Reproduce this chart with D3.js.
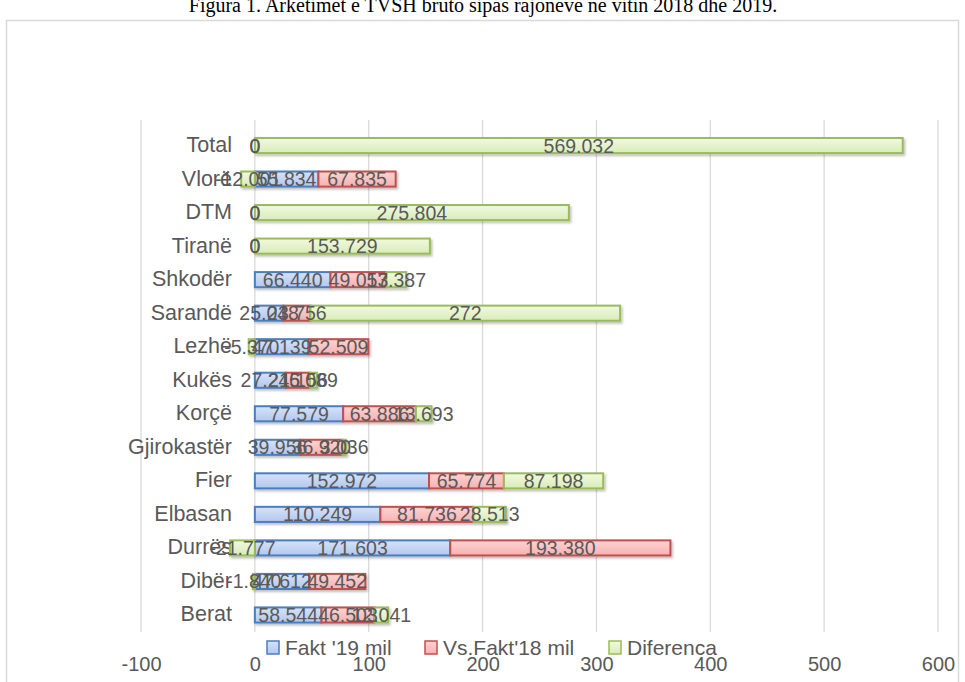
<!DOCTYPE html>
<html><head><meta charset="utf-8">
<script src="https://cdn.jsdelivr.net/npm/d3@7"></script>
<style>body{margin:0;background:#fff}svg{display:block}</style>
</head><body><svg id="c" width="965" height="682"></svg>
<script>
const categories = ["Total","Vlorë","DTM","Tiranë","Shkodër","Sarandë","Lezhë","Kukës","Korçë","Gjirokastër","Fier","Elbasan","Durrës","Dibër","Berat"];
const fakt19 =    [0, 55.834, 0, 0, 66.440, 25.048, 47.139, 27.245, 77.579, 39.956, 152.972, 110.249, 171.603, 47.612, 58.544];
const vsFakt18 =  [0, 67.835, 0, 0, 49.053, 23.756, 52.509, 21.156, 63.886, 36.920, 65.774, 81.736, 193.380, 49.452, 46.503];
const diferenca = [569.032, -12.001, 275.804, 153.729, 17.387, 272, -5.370, 6.089, 13.693, 3.036, 87.198, 28.513, -21.777, -1.840, 12.041];
const seriesNames = ["Fakt '19 mil", "Vs.Fakt'18 mil", "Diferenca"];
const xTicks = [-100, 0, 100, 200, 300, 400, 500, 600];
const titleText = "Figura 1. Arkëtimet e TVSH bruto sipas rajoneve në vitin 2018 dhe 2019.";

const keys = ["f", "v", "d"];
const rows = categories.map((c, i) => ({cat: c, f: fakt19[i], v: vsFakt18[i], d: diferenca[i]}));
const strokes = {f: "#4a7ebf", v: "#c0504d", d: "#9bbb59"};
const fills = {f: ["#d6e2f8", "#b3c8ee"], v: ["#ffd3d3", "#f6b1b1"], d: ["#f1f9e2", "#d9ecb6"]};

const svg = d3.select("#c");
const defs = svg.append("defs");
keys.forEach(k => {
  const g = defs.append("linearGradient").attr("id", "g" + k).attr("x1", 0).attr("y1", 0).attr("x2", 0).attr("y2", 1);
  g.append("stop").attr("offset", "0%").attr("stop-color", fills[k][0]);
  g.append("stop").attr("offset", "100%").attr("stop-color", fills[k][1]);
});
const f = defs.append("filter").attr("id", "sh").attr("x", "-10%").attr("y", "-30%").attr("width", "130%").attr("height", "180%");
f.append("feDropShadow").attr("dx", 1.5).attr("dy", 2).attr("stdDeviation", 1.2).attr("flood-color", "#000").attr("flood-opacity", 0.25);

svg.append("rect").attr("width", 965).attr("height", 682).attr("fill", "#fff");
svg.append("text").attr("x", 483).attr("y", 12).attr("text-anchor", "middle")
  .attr("font-family", "Liberation Serif").attr("font-size", 20).attr("fill", "#000").text(titleText);
svg.append("rect").attr("x", 6.5).attr("y", 20.5).attr("width", 952).attr("height", 720)
  .attr("fill", "none").attr("stroke", "#d9d9d9").attr("stroke-width", 1.5);

const x = d3.scaleLinear().domain([-100, 600]).range([141, 938]);
const y = d3.scaleBand().domain(categories).range([128.75, 631.75]).paddingInner(0.55).paddingOuter(0.275);

// gridlines
svg.append("g").selectAll("line").data(xTicks).join("line")
  .attr("x1", d => x(d)).attr("x2", d => x(d)).attr("y1", 120).attr("y2", 632)
  .attr("stroke", "#d9d9d9").attr("stroke-width", 1.3);

// tick labels
const axis = d3.axisBottom(x).tickValues(xTicks).tickSize(0).tickPadding(0).tickFormat(d => String(d));
const ag = svg.append("g").attr("transform", "translate(0,664)").call(axis);
ag.select(".domain").remove();
ag.selectAll("text").attr("font-family", "Liberation Sans").attr("font-size", 20).attr("fill", "#595959")
  .attr("dy", "0.35em");

// category labels
svg.append("g").selectAll("text").data(categories).join("text")
  .attr("x", 232).attr("y", d => y(d) + y.bandwidth() / 2).attr("dy", "0.3em")
  .attr("text-anchor", "end").attr("font-family", "Liberation Sans").attr("font-size", 21.5)
  .attr("fill", "#595959").text(d => d);

const stack = d3.stack().keys(keys).offset(d3.stackOffsetDiverging)(rows);

const bars = svg.append("g").attr("filter", "url(#sh)");
stack.forEach(s => {
  bars.append("g").selectAll("rect").data(s).join("rect")
    .attr("x", d => x(Math.min(d[0], d[1])))
    .attr("width", d => Math.abs(x(d[1]) - x(d[0])))
    .attr("y", d => y(d.data.cat)).attr("height", y.bandwidth())
    .attr("fill", "url(#g" + s.key + ")").attr("stroke", strokes[s.key]).attr("stroke-width", 2)
    .attr("display", d => d[1] === d[0] ? "none" : null);
});

const fmt = v => Number.isInteger(v) ? String(v) : v.toFixed(3);
const lg = svg.append("g");
stack.forEach(s => {
  lg.append("g").selectAll("text").data(s).join("text")
    .attr("x", d => (x(d[0]) + x(d[1])) / 2)
    .attr("y", d => y(d.data.cat) + y.bandwidth() / 2).attr("dy", "0.36em")
    .attr("text-anchor", "middle").attr("font-family", "Liberation Sans").attr("font-size", 19.5)
    .attr("fill", "#595959").text(d => fmt(d.data[s.key]));
});

// legend
const legendX = [267, 425, 609];
const leg = svg.append("g");
keys.forEach((k, i) => {
  leg.append("rect").attr("x", legendX[i]).attr("y", 641).attr("width", 12).attr("height", 13)
    .attr("fill", "url(#g" + k + ")").attr("stroke", strokes[k]).attr("stroke-width", 1.5);
  leg.append("text").attr("x", legendX[i] + 18).attr("y", 648).attr("dy", "0.35em")
    .attr("font-family", "Liberation Sans").attr("font-size", 21).attr("fill", "#595959").text(seriesNames[i]);
});
</script></body></html>
